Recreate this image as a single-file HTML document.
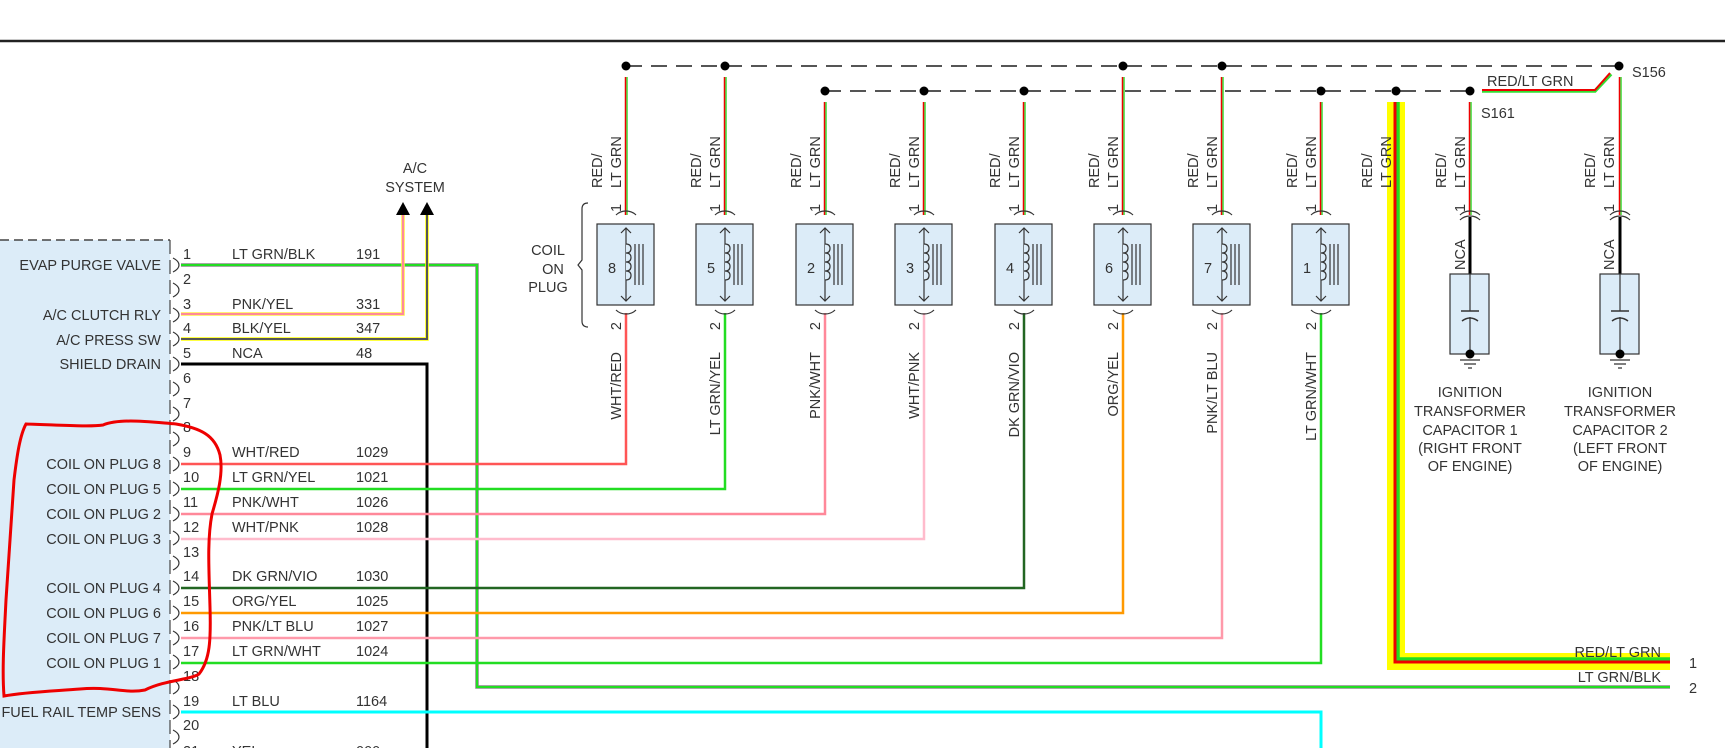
<!DOCTYPE html>
<html><head><meta charset="utf-8"><style>
html,body{margin:0;padding:0;background:#fff;}
svg{display:block;}
text{font-family:"Liberation Sans",Arial,sans-serif;fill:#333;font-size:14.5px;}
</style></head><body>
<svg width="1725" height="748" viewBox="0 0 1725 748" xmlns="http://www.w3.org/2000/svg">
<line x1="0" y1="41" x2="1725" y2="41" stroke="#222" stroke-width="2.5"/>

<rect x="0" y="240" width="170" height="520" fill="#dcecf8"/>
<line x1="0" y1="240" x2="170" y2="240" stroke="#444" stroke-width="1.5" stroke-dasharray="9,5"/>
<line x1="170" y1="240" x2="170" y2="748" stroke="#444" stroke-width="1.2" stroke-dasharray="14,6"/>

<g fill="none" stroke="#333" stroke-width="1.2">
<path d="M173 258q6 3 6 7q0 4-6 7"/><path d="M173 283q6 3 6 7q0 4-6 7"/><path d="M173 308q6 3 6 7q0 4-6 7"/><path d="M173 332q6 3 6 7q0 4-6 7"/>
<path d="M173 357q6 3 6 7q0 4-6 7"/><path d="M173 382q6 3 6 7q0 4-6 7"/><path d="M173 407q6 3 6 7q0 4-6 7"/><path d="M173 432q6 3 6 7q0 4-6 7"/>
<path d="M173 457q6 3 6 7q0 4-6 7"/><path d="M173 482q6 3 6 7q0 4-6 7"/><path d="M173 507q6 3 6 7q0 4-6 7"/><path d="M173 531q6 3 6 7q0 4-6 7"/>
<path d="M173 556q6 3 6 7q0 4-6 7"/><path d="M173 581q6 3 6 7q0 4-6 7"/><path d="M173 606q6 3 6 7q0 4-6 7"/><path d="M173 631q6 3 6 7q0 4-6 7"/>
<path d="M173 655q6 3 6 7q0 4-6 7"/><path d="M173 680q6 3 6 7q0 4-6 7"/><path d="M173 705q6 3 6 7q0 4-6 7"/><path d="M173 730q6 3 6 7q0 4-6 7"/>
</g>
<g>
<text x="183" y="259">1</text><text x="183" y="284">2</text><text x="183" y="309">3</text><text x="183" y="333">4</text><text x="183" y="358">5</text>
<text x="183" y="383">6</text><text x="183" y="408">7</text><text x="183" y="432">8</text><text x="183" y="457">9</text><text x="183" y="482">10</text>
<text x="183" y="507">11</text><text x="183" y="532">12</text><text x="183" y="557">13</text><text x="183" y="581">14</text><text x="183" y="606">15</text>
<text x="183" y="631">16</text><text x="183" y="656">17</text><text x="183" y="681">18</text><text x="183" y="706">19</text><text x="183" y="730">20</text>
<text x="183" y="756">21</text>
</g>
<g text-anchor="end">
<text x="161" y="270">EVAP PURGE VALVE</text>
<text x="161" y="320">A/C CLUTCH RLY</text>
<text x="161" y="345">A/C PRESS SW</text>
<text x="161" y="369">SHIELD DRAIN</text>
<text x="161" y="469">COIL ON PLUG 8</text>
<text x="161" y="494">COIL ON PLUG 5</text>
<text x="161" y="519">COIL ON PLUG 2</text>
<text x="161" y="544">COIL ON PLUG 3</text>
<text x="161" y="593">COIL ON PLUG 4</text>
<text x="161" y="618">COIL ON PLUG 6</text>
<text x="161" y="643">COIL ON PLUG 7</text>
<text x="161" y="668">COIL ON PLUG 1</text>
<text x="161" y="717">FUEL RAIL TEMP SENS</text>
</g>
<g>
<text x="232" y="259">LT GRN/BLK</text><text x="356" y="259">191</text>
<text x="232" y="309">PNK/YEL</text><text x="356" y="309">331</text>
<text x="232" y="333">BLK/YEL</text><text x="356" y="333">347</text>
<text x="232" y="358">NCA</text><text x="356" y="358">48</text>
<text x="232" y="457">WHT/RED</text><text x="356" y="457">1029</text>
<text x="232" y="482">LT GRN/YEL</text><text x="356" y="482">1021</text>
<text x="232" y="507">PNK/WHT</text><text x="356" y="507">1026</text>
<text x="232" y="532">WHT/PNK</text><text x="356" y="532">1028</text>
<text x="232" y="581">DK GRN/VIO</text><text x="356" y="581">1030</text>
<text x="232" y="606">ORG/YEL</text><text x="356" y="606">1025</text>
<text x="232" y="631">PNK/LT BLU</text><text x="356" y="631">1027</text>
<text x="232" y="656">LT GRN/WHT</text><text x="356" y="656">1024</text>
<text x="232" y="706">LT BLU</text><text x="356" y="706">1164</text>
<text x="232" y="756">YEL</text><text x="356" y="756">000</text>
</g>

<text x="415" y="173" text-anchor="middle">A/C</text>
<text x="415" y="192" text-anchor="middle">SYSTEM</text>
<polygon points="403,202 396,215 410,215" fill="#000"/>
<polygon points="427,202 420,215 434,215" fill="#000"/>

<g fill="none" stroke-linejoin="miter">
<path d="M181 265 H477 V687 H1670" stroke="#888" stroke-width="3.5"/>
<path d="M181 265 H477 V687 H1670" stroke="#22dd22" stroke-width="2"/>
<path d="M181 314 H403 V215" stroke="#ffee44" stroke-width="3.5"/>
<path d="M181 314 H403 V215" stroke="#ff8899" stroke-width="2"/>
<path d="M181 339 H427 V215" stroke="#ffff00" stroke-width="3.5"/>
<path d="M181 339 H427 V215" stroke="#555" stroke-width="2"/>
<path d="M181 364 H427 V748" stroke="#000" stroke-width="3"/>
<path d="M181 464 H626 V313" stroke="#ff5555" stroke-width="2.5"/>
<path d="M181 489 H725 V313" stroke="#22dd22" stroke-width="2.5"/>
<path d="M181 514 H825 V313" stroke="#ff8899" stroke-width="2.5"/>
<path d="M181 539 H924 V313" stroke="#ffbbcc" stroke-width="2.5"/>
<path d="M181 588 H1024 V313" stroke="#226622" stroke-width="2.5"/>
<path d="M181 613 H1123 V313" stroke="#ff9900" stroke-width="2.5"/>
<path d="M181 638 H1222 V313" stroke="#ff99aa" stroke-width="2.5"/>
<path d="M181 663 H1321 V313" stroke="#22dd22" stroke-width="2.5"/>
<path d="M181 712 H1321 V748" stroke="#00ffff" stroke-width="3"/>
</g>

<path d="M26 424 C60 425 90 427 103 425 C120 418 150 422 176 424 C200 428 215 435 220 455 C224 475 216 500 212 514 C207 540 209 570 210 607 C211 640 210 660 199 674 C190 680 165 680 145 690 C125 694 110 686 80 689 C55 691 25 692 4 696 C2 670 4 640 6 600 C9 560 11 520 14 480 C17 455 20 435 26 424 Z" fill="none" stroke="#ee0000" stroke-width="3"/>

<line x1="626" y1="66" x2="1619" y2="66" stroke="#555" stroke-width="2" stroke-dasharray="16,9"/>
<line x1="825" y1="91" x2="1470" y2="91" stroke="#555" stroke-width="2" stroke-dasharray="16,9"/>
<g fill="#000">
<circle cx="626" cy="66" r="4.5"/><circle cx="725" cy="66" r="4.5"/><circle cx="1123" cy="66" r="4.5"/><circle cx="1222" cy="66" r="4.5"/><circle cx="1619" cy="66" r="4.5"/>
<circle cx="825" cy="91" r="4.5"/><circle cx="924" cy="91" r="4.5"/><circle cx="1024" cy="91" r="4.5"/><circle cx="1321" cy="91" r="4.5"/><circle cx="1396" cy="91" r="4.5"/><circle cx="1470" cy="91" r="4.5"/>
</g>
<path d="M1482 91 H1595 L1611 74" fill="none" stroke="#33dd33" stroke-width="3.5"/>
<path d="M1482 90 H1595 L1610 73" fill="none" stroke="#ee0000" stroke-width="2"/>
<text x="1487" y="86">RED/LT GRN</text>
<text x="1632" y="77">S156</text>
<text x="1481" y="118">S161</text>

<g stroke-width="1.5">
<line x1="627" y1="77" x2="627" y2="215" stroke="#33dd33"/><line x1="625.5" y1="77" x2="625.5" y2="215" stroke="#ee0000"/>
<line x1="726" y1="77" x2="726" y2="215" stroke="#33dd33"/><line x1="724.5" y1="77" x2="724.5" y2="215" stroke="#ee0000"/>
<line x1="826" y1="102" x2="826" y2="215" stroke="#33dd33"/><line x1="824.5" y1="102" x2="824.5" y2="215" stroke="#ee0000"/>
<line x1="925" y1="102" x2="925" y2="215" stroke="#33dd33"/><line x1="923.5" y1="102" x2="923.5" y2="215" stroke="#ee0000"/>
<line x1="1025" y1="102" x2="1025" y2="215" stroke="#33dd33"/><line x1="1023.5" y1="102" x2="1023.5" y2="215" stroke="#ee0000"/>
<line x1="1124" y1="77" x2="1124" y2="215" stroke="#33dd33"/><line x1="1122.5" y1="77" x2="1122.5" y2="215" stroke="#ee0000"/>
<line x1="1223" y1="77" x2="1223" y2="215" stroke="#33dd33"/><line x1="1221.5" y1="77" x2="1221.5" y2="215" stroke="#ee0000"/>
<line x1="1322" y1="102" x2="1322" y2="215" stroke="#33dd33"/><line x1="1320.5" y1="102" x2="1320.5" y2="215" stroke="#ee0000"/>
<line x1="1471" y1="102" x2="1471" y2="215" stroke="#33dd33"/><line x1="1469.5" y1="102" x2="1469.5" y2="215" stroke="#ee0000"/>
<line x1="1621" y1="77" x2="1621" y2="215" stroke="#33dd33"/><line x1="1619.5" y1="77" x2="1619.5" y2="215" stroke="#ee0000"/>
</g>

<path d="M1387 102 V670 H1670 V653 H1405 V102 Z" fill="#ffff00"/>
<path d="M1398 102 V659 H1670" fill="none" stroke="#22dd22" stroke-width="3.5"/>
<path d="M1395 102 V662 H1670" fill="none" stroke="#ee0000" stroke-width="3"/>
<text x="1661" y="657" text-anchor="end">RED/LT GRN</text>
<text x="1661" y="682" text-anchor="end">LT GRN/BLK</text>
<text x="1689" y="668">1</text>
<text x="1689" y="693">2</text>

<defs>
<g id="coil">
<path d="M-10 215 q4 -4 10 -4 q6 0 10 4" fill="none" stroke="#333" stroke-width="1.2"/>
<rect x="-29" y="224" width="57" height="81" fill="#dcecf8" stroke="#333" stroke-width="1.2"/>
<line x1="0" y1="228" x2="0" y2="301" stroke="#333" stroke-width="1.2"/>
<path d="M-5 233 L0 228 L5 233 M-5 296 L0 301 L5 296" fill="none" stroke="#333" stroke-width="1.2"/>
<path d="M0 244 q5 0 5 4.5 q0 4.5 -5 4.5 q5 0 5 4.5 q0 4.5 -5 4.5 q5 0 5 4.5 q0 4.5 -5 4.5 q5 0 5 4.5 q0 4.5 -5 4.5" fill="#dcecf8" stroke="#333" stroke-width="1.2"/>
<path d="M9 244 V285 M13 244 V285 M17 244 V285" stroke="#333" stroke-width="1.2"/>
<path d="M-10 310 q4 4 10 4 q6 0 10 -4" fill="none" stroke="#333" stroke-width="1.2"/>
</g>
</defs>
<use href="#coil" x="626"/><use href="#coil" x="725"/><use href="#coil" x="825"/><use href="#coil" x="924"/>
<use href="#coil" x="1024"/><use href="#coil" x="1123"/><use href="#coil" x="1222"/><use href="#coil" x="1321"/>
<g text-anchor="middle">
<text x="612" y="273">8</text><text x="711" y="273">5</text><text x="811" y="273">2</text><text x="910" y="273">3</text>
<text x="1010" y="273">4</text><text x="1109" y="273">6</text><text x="1208" y="273">7</text><text x="1307" y="273">1</text>
</g>
<path d="M588 203 q-6 0 -6 6 V260 L578 265 L582 270 V321 q0 6 6 6" fill="none" stroke="#333" stroke-width="1.2"/>
<text x="548" y="255" text-anchor="middle">COIL</text>
<text x="553" y="274" text-anchor="middle">ON</text>
<text x="548" y="292" text-anchor="middle">PLUG</text>

<g>
<text transform="translate(602,188) rotate(-90)">RED/</text><text transform="translate(621,188) rotate(-90)">LT GRN</text><text transform="translate(621,212) rotate(-90)">1</text>
<text transform="translate(701,188) rotate(-90)">RED/</text><text transform="translate(720,188) rotate(-90)">LT GRN</text><text transform="translate(720,212) rotate(-90)">1</text>
<text transform="translate(801,188) rotate(-90)">RED/</text><text transform="translate(820,188) rotate(-90)">LT GRN</text><text transform="translate(820,212) rotate(-90)">1</text>
<text transform="translate(900,188) rotate(-90)">RED/</text><text transform="translate(919,188) rotate(-90)">LT GRN</text><text transform="translate(919,212) rotate(-90)">1</text>
<text transform="translate(1000,188) rotate(-90)">RED/</text><text transform="translate(1019,188) rotate(-90)">LT GRN</text><text transform="translate(1019,212) rotate(-90)">1</text>
<text transform="translate(1099,188) rotate(-90)">RED/</text><text transform="translate(1118,188) rotate(-90)">LT GRN</text><text transform="translate(1118,212) rotate(-90)">1</text>
<text transform="translate(1198,188) rotate(-90)">RED/</text><text transform="translate(1217,188) rotate(-90)">LT GRN</text><text transform="translate(1217,212) rotate(-90)">1</text>
<text transform="translate(1297,188) rotate(-90)">RED/</text><text transform="translate(1316,188) rotate(-90)">LT GRN</text><text transform="translate(1316,212) rotate(-90)">1</text>
<text transform="translate(1372,188) rotate(-90)">RED/</text><text transform="translate(1391,188) rotate(-90)">LT GRN</text>
<text transform="translate(1446,188) rotate(-90)">RED/</text><text transform="translate(1465,188) rotate(-90)">LT GRN</text><text transform="translate(1465,212) rotate(-90)">1</text>
<text transform="translate(1595,188) rotate(-90)">RED/</text><text transform="translate(1614,188) rotate(-90)">LT GRN</text><text transform="translate(1614,212) rotate(-90)">1</text>
</g>
<g text-anchor="end">
<text transform="translate(621,322) rotate(-90)">2</text><text transform="translate(621,352) rotate(-90)">WHT/RED</text>
<text transform="translate(720,322) rotate(-90)">2</text><text transform="translate(720,352) rotate(-90)">LT GRN/YEL</text>
<text transform="translate(820,322) rotate(-90)">2</text><text transform="translate(820,352) rotate(-90)">PNK/WHT</text>
<text transform="translate(919,322) rotate(-90)">2</text><text transform="translate(919,352) rotate(-90)">WHT/PNK</text>
<text transform="translate(1019,322) rotate(-90)">2</text><text transform="translate(1019,352) rotate(-90)">DK GRN/VIO</text>
<text transform="translate(1118,322) rotate(-90)">2</text><text transform="translate(1118,352) rotate(-90)">ORG/YEL</text>
<text transform="translate(1217,322) rotate(-90)">2</text><text transform="translate(1217,352) rotate(-90)">PNK/LT BLU</text>
<text transform="translate(1316,322) rotate(-90)">2</text><text transform="translate(1316,352) rotate(-90)">LT GRN/WHT</text>
</g>

<defs>
<g id="cap">
<path d="M-10 215 q4 -4 10 -4 q6 0 10 4 M-10 220 q4 -4 10 -4 q6 0 10 4" fill="none" stroke="#333" stroke-width="1.2"/>
<line x1="0" y1="217" x2="0" y2="274" stroke="#000" stroke-width="3"/>
<rect x="-20" y="274" width="39" height="80" fill="#dcecf8" stroke="#333" stroke-width="1.2"/>
<line x1="0" y1="274" x2="0" y2="311" stroke="#333" stroke-width="1.2"/>
<line x1="-9" y1="311" x2="9" y2="311" stroke="#333" stroke-width="1.5"/>
<path d="M-8 321 q8 -6 16 0" fill="none" stroke="#333" stroke-width="1.5"/>
<line x1="0" y1="317" x2="0" y2="354" stroke="#333" stroke-width="1.2"/>
<circle cx="0" cy="354" r="4.5" fill="#000"/>
<path d="M-10 360 H10 M-6 364 H6 M-2 368 H2" stroke="#333" stroke-width="1.2"/>
</g>
</defs>
<use href="#cap" x="1470"/><use href="#cap" x="1620"/>
<text transform="translate(1465,270) rotate(-90)">NCA</text>
<text transform="translate(1614,270) rotate(-90)">NCA</text>
<g text-anchor="middle">
<text x="1470" y="397">IGNITION</text><text x="1470" y="416">TRANSFORMER</text><text x="1470" y="435">CAPACITOR 1</text><text x="1470" y="453">(RIGHT FRONT</text><text x="1470" y="471">OF ENGINE)</text>
<text x="1620" y="397">IGNITION</text><text x="1620" y="416">TRANSFORMER</text><text x="1620" y="435">CAPACITOR 2</text><text x="1620" y="453">(LEFT FRONT</text><text x="1620" y="471">OF ENGINE)</text>
</g>
</svg>
</body></html>
